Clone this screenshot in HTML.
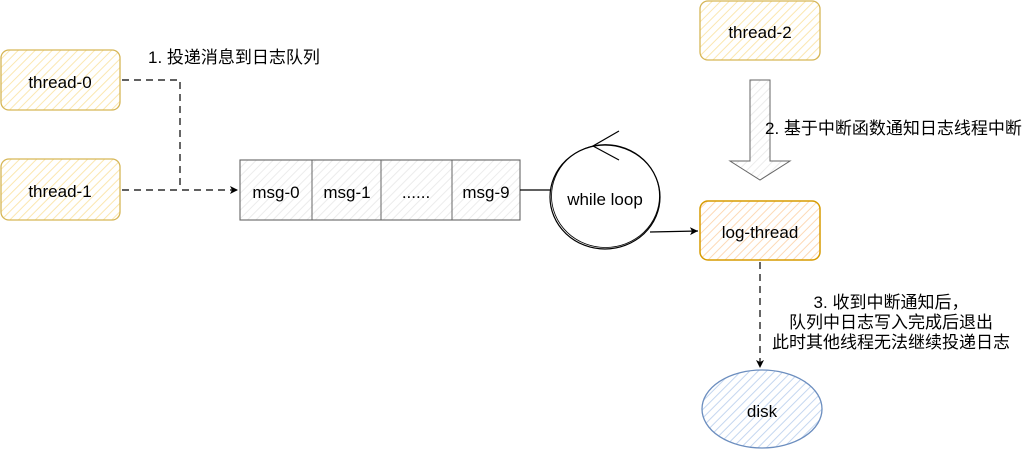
<!DOCTYPE html>
<html><head><meta charset="utf-8"><style>
html,body{margin:0;padding:0;background:#fff;}
svg{display:block;}
text{font-family:"Liberation Sans","Noto Sans CJK SC",sans-serif;font-size:17px;fill:#000;}
</style></head><body>
<svg width="1036" height="451" viewBox="0 0 1036 451" xmlns="http://www.w3.org/2000/svg">
<defs>
<pattern id="hy" width="6" height="6" patternUnits="userSpaceOnUse" patternTransform="rotate(45)"><rect width="6" height="6" fill="#fff"/><line x1="0" y1="0" x2="0" y2="6" stroke="#fbe7b0" stroke-width="2"/></pattern>
<pattern id="ho" width="6" height="6" patternUnits="userSpaceOnUse" patternTransform="rotate(45)"><rect width="6" height="6" fill="#fff"/><line x1="0" y1="0" x2="0" y2="6" stroke="#fdd9b5" stroke-width="2"/></pattern>
<pattern id="hg" width="6" height="6" patternUnits="userSpaceOnUse" patternTransform="rotate(45)"><rect width="6" height="6" fill="#fff"/><line x1="0" y1="0" x2="0" y2="6" stroke="#ececec" stroke-width="2"/></pattern>
<pattern id="hb" width="6" height="6" patternUnits="userSpaceOnUse" patternTransform="rotate(45)"><rect width="6" height="6" fill="#fff"/><line x1="0" y1="0" x2="0" y2="6" stroke="#c5d7f0" stroke-width="2"/></pattern>
<marker id="ar" markerWidth="10" markerHeight="10" refX="8" refY="4" orient="auto" markerUnits="userSpaceOnUse"><path d="M0,0 L8,4 L0,8 L2,4 Z" fill="#000"/></marker>
</defs>

<!-- thread-0 -->
<rect x="1" y="50" width="119" height="60" rx="8" fill="url(#hy)" stroke="#d6b656" stroke-width="1.3"/>
<text x="60" y="88" text-anchor="middle">thread-0</text>
<!-- thread-1 -->
<rect x="1" y="159" width="119" height="61" rx="8" fill="url(#hy)" stroke="#d6b656" stroke-width="1.3"/>
<text x="60" y="197" text-anchor="middle">thread-1</text>

<!-- label 1 -->
<text x="148" y="63">1. 投递消息到日志队列</text>

<!-- connectors -->
<path d="M122,80 L180,80 L180,190" fill="none" stroke="#000" stroke-width="1.2" stroke-dasharray="7 5"/>
<path d="M122,190 L238,190" fill="none" stroke="#000" stroke-width="1.2" stroke-dasharray="7 5" marker-end="url(#ar)"/>

<!-- queue -->
<rect x="240" y="160" width="280" height="60" fill="url(#hg)" stroke="#666" stroke-width="1.1"/>
<line x1="312" y1="160" x2="312" y2="220" stroke="#666" stroke-width="1"/>
<line x1="381" y1="160" x2="381" y2="220" stroke="#666" stroke-width="1"/>
<line x1="452" y1="160" x2="452" y2="220" stroke="#666" stroke-width="1"/>
<text x="276" y="198" text-anchor="middle">msg-0</text>
<text x="347" y="198" text-anchor="middle">msg-1</text>
<text x="416" y="198" text-anchor="middle">......</text>
<text x="486" y="198" text-anchor="middle">msg-9</text>

<!-- line to loop -->
<line x1="520" y1="190" x2="551" y2="190" stroke="#000" stroke-width="1.3"/>
<!-- while loop circle -->
<ellipse cx="605" cy="197" rx="55" ry="52" fill="#fff" stroke="#000" stroke-width="1.2"/>
<ellipse cx="605.5" cy="196" rx="54" ry="51.5" fill="none" stroke="#000" stroke-width="0.8"/>
<path d="M619,131 L593,146 L619,160" fill="none" stroke="#000" stroke-width="1.2"/>
<text x="605" y="205" text-anchor="middle">while loop</text>
<path d="M650,232 L698,231" fill="none" stroke="#000" stroke-width="1.2" marker-end="url(#ar)"/>

<!-- thread-2 -->
<rect x="700" y="1" width="120" height="59" rx="8" fill="url(#hy)" stroke="#d6b656" stroke-width="1.3"/>
<text x="760" y="38" text-anchor="middle">thread-2</text>

<!-- big arrow -->
<path d="M750,80 L770,80 L770,161 L790,161 L760,180 L730,161 L750,161 Z" fill="url(#hg)" stroke="#666" stroke-width="1"/>
<text x="765" y="134">2. 基于中断函数通知日志线程中断</text>

<!-- log-thread -->
<rect x="700" y="201" width="120" height="59" rx="8" fill="url(#ho)" stroke="#d79b00" stroke-width="1.5"/>
<text x="760" y="238" text-anchor="middle">log-thread</text>

<!-- dashed to disk -->
<path d="M760,262 L760,368" fill="none" stroke="#000" stroke-width="1.2" stroke-dasharray="7 5" marker-end="url(#ar)"/>

<!-- label 3 -->
<text x="891" y="308" text-anchor="middle">3. 收到中断通知后，</text>
<text x="891" y="328" text-anchor="middle">队列中日志写入完成后退出</text>
<text x="891" y="348" text-anchor="middle">此时其他线程无法继续投递日志</text>

<!-- disk -->
<ellipse cx="762" cy="409" rx="60" ry="39" fill="url(#hb)" stroke="#6c8ebf" stroke-width="1.3"/>
<text x="762" y="417" text-anchor="middle">disk</text>
</svg>
</body></html>
